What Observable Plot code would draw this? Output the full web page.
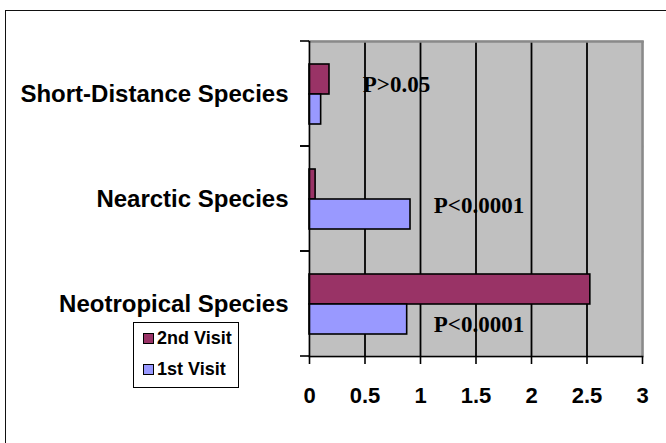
<!DOCTYPE html>
<html>
<head>
<meta charset="utf-8">
<script src="https://cdn.jsdelivr.net/npm/d3@7"></script>
<script src="https://cdn.jsdelivr.net/npm/@observablehq/plot@0.6"></script>
<style>
  html, body { margin: 0; padding: 0; background: white; }
  #wrap { position: relative; width: 666px; height: 443px; overflow: hidden; }
  #outer { position: absolute; left: 5px; top: 10px; width: 700px; height: 500px;
           border-left: 1.5px solid #111; border-top: 1.5px solid #111; pointer-events: none; }
  #legend { position: absolute; left: 133px; top: 322px; width: 106px; height: 66px;
            border: 1.5px solid #000; background: white; box-sizing: border-box;
            font: bold 18px "Liberation Sans", Arial, sans-serif; color: #000; }
  .item { position: absolute; left: 9px; display: flex; align-items: center; }
  .sw { width: 9px; height: 9px; border: 1px solid #000; margin-right: 3px; }
  #chart svg text { font-family: "Liberation Sans", Arial, sans-serif; font-weight: bold; fill: #000; }
  #chart svg g.anno text { font-family: "Liberation Serif", "Times New Roman", serif; }
</style>
</head>
<body>
<div id="wrap">
  <div id="chart"></div>
  <div id="outer"></div>
  <div id="legend"></div>
</div>
<script>
// ---- data ----
const categories = ["Short-Distance Species", "Nearctic Species", "Neotropical Species"];
const visits = ["2nd Visit", "1st Visit"];
const secondVisit = [0.18, 0.055, 2.53];
const firstVisit = [0.105, 0.91, 0.88];
const xTicks = [0, 0.5, 1, 1.5, 2, 2.5, 3];
const gridTicks = [0.5, 1, 1.5, 2, 2.5];
const annoLabels = ["P>0.05", "P<0.0001", "P<0.0001"];
const annoX = [0.48, 1.12, 1.12];
const annoAnchor = ["2nd Visit", "1st Visit", "1st Visit"];
const annoDy = [5, -9, 5];
const visitColors = ["#993366", "#9999FF"];

const rows = [];
categories.forEach((c, i) => {
  rows.push({category: c, visit: visits[0], value: secondVisit[i]});
  rows.push({category: c, visit: visits[1], value: firstVisit[i]});
});

function boundaryTicks(index, scales, values, dimensions) {
  const {marginLeft, marginTop, marginBottom, height} = dimensions;
  const g = d3.create("svg:g");
  for (const y of [marginTop, height - marginBottom]) {
    g.append("line").attr("x1", marginLeft - 9).attr("x2", marginLeft)
      .attr("y1", y).attr("y2", y).attr("stroke", "black").attr("stroke-width", 1.6);
  }
  return g.node();
}

const annoMarks = annoLabels.map((t, i) =>
  Plot.text([{category: categories[i], visit: annoAnchor[i], x: annoX[i], label: t}], {
    x: "x", y: "visit", fy: "category", text: "label",
    textAnchor: "start", dy: annoDy[i], fontSize: 23, fontWeight: "bold",
    fontFamily: "Liberation Serif", fill: "black", className: "anno"
  })
);

const chart = Plot.plot({
  width: 666,
  height: 443,
  marginLeft: 309,
  marginRight: 24,
  marginTop: 41,
  marginBottom: 87,
  style: {background: "transparent", overflow: "visible"},
  x: {domain: [0, 3], axis: null},
  y: {domain: visits, paddingInner: 0, paddingOuter: 0.75, axis: null},
  fy: {domain: categories, padding: 0, axis: null},
  color: {domain: visits, range: visitColors},
  marks: [
    Plot.frame({fill: "#C0C0C0", stroke: "#C0C0C0", strokeWidth: 2}),
    Plot.gridX(gridTicks, {stroke: "black", strokeOpacity: 1, strokeWidth: 1.8}),
    Plot.ruleX([3], {stroke: "#8a8a8a", strokeWidth: 2.5}),
    Plot.frame({anchor: "top", facetAnchor: "top", stroke: "#8a8a8a", strokeWidth: 2.5}),
    Plot.barX(rows, {x: "value", y: "visit", fy: "category", fill: "visit", stroke: "black", strokeWidth: 1.6}),
    Plot.ruleX([0], {stroke: "black", strokeWidth: 1.6}),
    Plot.frame({anchor: "bottom", facetAnchor: "bottom", stroke: "black", strokeWidth: 1.6}),
    boundaryTicks,
    Plot.axisX({ticks: xTicks, tickSize: 8, tickPadding: 23, fontSize: 22, fontWeight: "bold",
                stroke: "black", strokeWidth: 1.6, tickFormat: d => String(d), label: null}),
    Plot.axisFy({anchor: "left", tickSize: 0, tickPadding: 21, fontSize: 24, fontWeight: "bold", label: null}),
    ...annoMarks
  ]
});
document.getElementById("chart").appendChild(chart);

// legend
const legend = document.getElementById("legend");
visits.forEach((v, i) => {
  const item = document.createElement("div");
  item.className = "item";
  item.style.top = (i === 0 ? 5 : 36) + "px";
  const sw = document.createElement("span");
  sw.className = "sw";
  sw.style.background = visitColors[i];
  const label = document.createElement("span");
  label.textContent = v;
  item.appendChild(sw);
  item.appendChild(label);
  legend.appendChild(item);
});
</script>
</body>
</html>
